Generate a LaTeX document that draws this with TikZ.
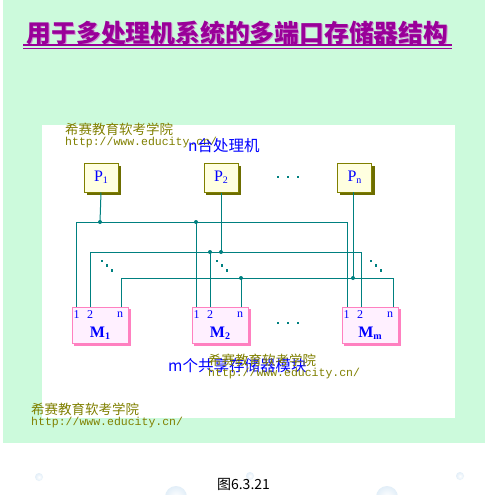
\documentclass[tikz,border=0pt]{standalone}
\usepackage{fontspec}
\newfontfamily\cjk{Noto Sans CJK SC}
\newfontfamily\mono{Liberation Mono}
\setmainfont{Liberation Serif}
\definecolor{bggreen}{HTML}{CCFADC}
\definecolor{tpurple}{HTML}{990099}
\definecolor{olivec}{HTML}{808000}
\definecolor{tealc}{HTML}{008080}
\definecolor{pinkb}{HTML}{FF80C0}
\definecolor{pinkf}{HTML}{FFF0FF}
\definecolor{yellf}{HTML}{FFFFE0}
\definecolor{bubble}{HTML}{E2EEF8}
\tikzset{
  pbox/.style={draw=olivec, line width=1pt, fill=yellf, minimum width=34pt, minimum height=29pt, inner sep=0pt, text=blue, font=\fontsize{16}{16}\selectfont},
  mbox/.style={draw=pinkb, line width=1pt, fill=pinkf, minimum width=56pt, minimum height=36pt, inner sep=0pt},
  port/.style={text=blue, font=\fontsize{12}{12}\selectfont, inner sep=0pt},
  mlabel/.style={text=blue, font=\bfseries\fontsize{16}{16}\selectfont, inner sep=0pt},
  wmcn/.style={text=olivec, font=\cjk\fontsize{13.5}{13.5}\selectfont, inner sep=0pt, anchor=west},
  wmurl/.style={text=olivec, font=\mono\fontsize{11.5}{11.5}\selectfont, inner sep=0pt, anchor=west},
  bluetxt/.style={text=blue, font=\cjk\fontsize{15.5}{15.5}\selectfont, inner sep=0pt, anchor=west},
  bus/.style={draw=tealc, line width=1pt},
  jdot/.style={circle, fill=tealc, minimum size=4pt, inner sep=0pt},
  sdot/.style={fill=tealc, minimum size=2.5pt, inner sep=0pt},
}
\begin{document}
\begin{tikzpicture}[x=1pt,y=-1pt]
\useasboundingbox (0,0) rectangle (486,495);
\fill[white] (0,0) rectangle (486,495);
% backgrounds
\fill[bggreen] (3,0) rectangle (485,443);
\fill[white] (42,125) rectangle (455,418);
% title
\node[font=\cjk\bfseries\fontsize{24.8}{24.8}\selectfont, text=tpurple!45, inner sep=0pt] at (238.5,34) {用于多处理机系统的多端口存储器结构};
\node[font=\cjk\bfseries\fontsize{24.8}{24.8}\selectfont, text=tpurple, inner sep=0pt] (title) at (237.5,33) {用于多处理机系统的多端口存储器结构};
\draw[tpurple, line width=1.6pt] (23,45) -- (452,45);
\draw[tpurple, line width=1pt] (23,48.2) -- (452,48.2);
% watermarks
\node[wmcn] (w1) at (65,129) {希赛教育软考学院};
\node[wmurl] (u1) at (65,143) {http://www.educity.cn/};
\node[bluetxt] (ntxt) at (188,146) {n台处理机};
% buses
\draw[bus] (76,307) -- (76,222) -- (347,222) -- (347,307);
\draw[bus] (90,307) -- (90,252) -- (361,252) -- (361,307);
\draw[bus] (121,307) -- (121,278) -- (393,278) -- (393,307);
\draw[bus] (196,307) -- (196,222);
\draw[bus] (210,307) -- (210,252);
\draw[bus] (241,307) -- (241,278);
% processor boxes with shadows
\fill[olivec!85!black] (86.5,165.5) rectangle (121,195);
\fill[olivec!85!black] (205.5,165.5) rectangle (241,195);
\fill[olivec!85!black] (339.5,165.5) rectangle (375,195);
\node[pbox] (P1) at (101,177.5) {P\raisebox{-2pt}{\fontsize{10}{10}\selectfont 1}};
\node[pbox] (P2) at (221,177.5) {P\raisebox{-2pt}{\fontsize{10}{10}\selectfont 2}};
\node[pbox] (Pn) at (354.5,177.5) {P\raisebox{-2pt}{\fontsize{10}{10}\selectfont n}};
\draw[bus] (P1.south) -- (100,222);
\draw[bus] (P2.south) -- (221,252);
\draw[bus] (353,192) -- (353,278);
% junction dots
\node[jdot] at (100,222) {};
\node[jdot] at (196,222) {};
\node[jdot] at (210,252) {};
\node[jdot] at (221,252) {};
\node[jdot] at (241,278) {};
\node[jdot] at (353,278) {};
% dots
\foreach \x in {278,288,298} \node[sdot] at (\x,177) {};
\foreach \x in {278,288,298} \node[sdot] at (\x,323) {};
\foreach \dx in {102,217,371} {
  \node[sdot] at (\dx,261) {};
  \node[sdot] at (\dx+5,265.5) {};
  \node[sdot] at (\dx+10,270.5) {};
}
% memory boxes with shadows
\fill[pinkb] (74,309) rectangle (130.5,345.5);
\fill[pinkb] (194,309) rectangle (250.5,345.5);
\fill[pinkb] (344,309) rectangle (400.5,345.5);
\node[mbox] (M1) at (100,325.5) {};
\node[mbox] (M2) at (220,325.5) {};
\node[mbox] (Mm) at (370,325.5) {};
\foreach \m/\x/\s in {M1/100/1, M2/220/2, Mm/370/m} {
  \node[port] at (\x-23.5,315) {1};
  \node[port] at (\x-10,315) {2};
  \node[port] at (\x+20,315) {n};
  \node[mlabel] at (\x,333.5) {M\raisebox{-2pt}{\fontsize{10}{10}\selectfont\s}};
}
% bottom texts
\node[bluetxt] (mtxt) at (168,366) {m个共享存储器模块};
\node[wmcn] (w2) at (208,360) {希赛教育软考学院};
\node[wmurl] (u2) at (208,374) {http://www.educity.cn/};
\node[wmcn] (w3) at (31,409) {希赛教育软考学院};
\node[wmurl] (u3) at (31,422.5) {http://www.educity.cn/};
% bubbles
\foreach \bx/\by/\r in {39/477/4, 250/476/4, 460/476/4, 176/497/11, 387/497/11}
  \shade[inner color=white, outer color=bubble] (\bx,\by) circle (\r);
% caption
\node[font=\cjk\fontsize{14}{14}\selectfont, inner sep=0pt] (cap) at (243.5,484) {图6.3.21};
\end{tikzpicture}
\end{document}
